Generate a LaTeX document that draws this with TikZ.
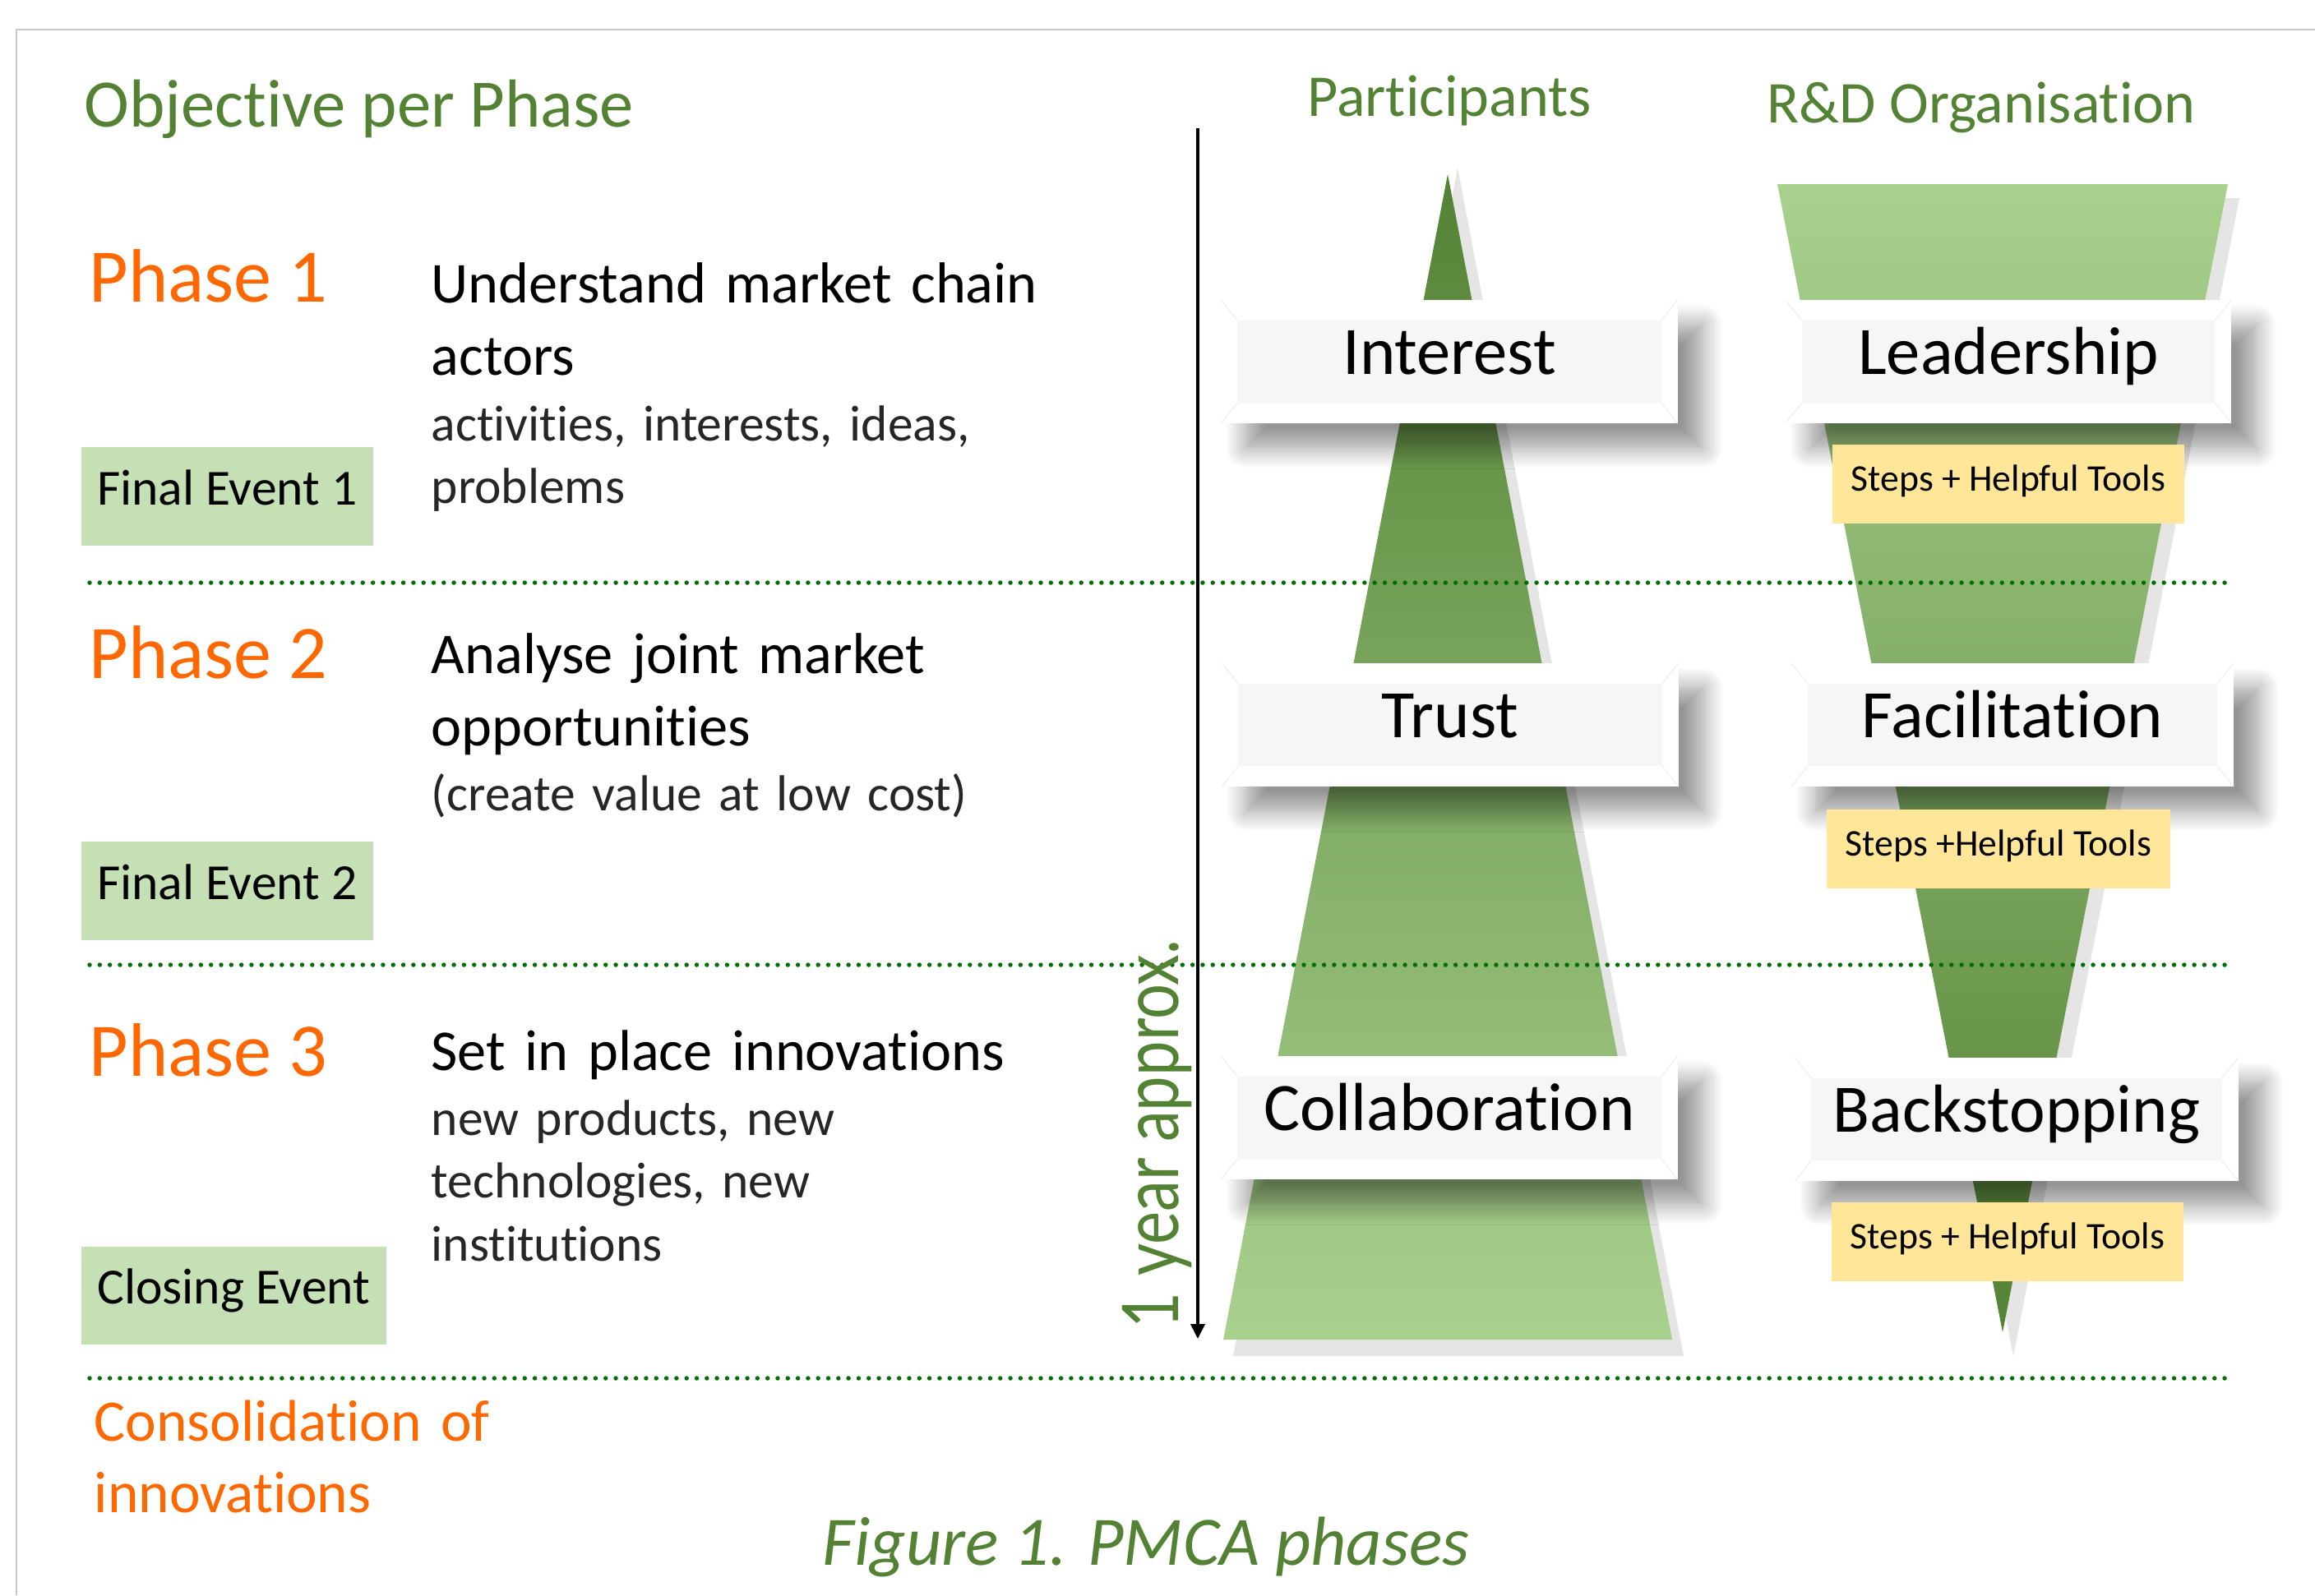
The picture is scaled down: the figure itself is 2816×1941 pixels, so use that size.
\documentclass[tikz,border=0pt]{standalone}
\usepackage{fontspec}
\setmainfont{Carlito}[Ligatures=NoCommon]
\newfontfamily\yearfont{Lato}
\usetikzlibrary{arrows.meta,shadows.blur,positioning}

\definecolor{headgreen}{RGB}{84,130,53}
\definecolor{phaseorange}{RGB}{255,104,0}
\definecolor{eventgreen}{RGB}{197,224,180}
\definecolor{palegreen}{RGB}{169,209,142}
\definecolor{deepgreen}{RGB}{84,130,53}
\definecolor{dotgreen}{RGB}{0,110,0}
\definecolor{stepyellow}{RGB}{255,230,153}
\definecolor{facegray}{RGB}{246,246,246}
\definecolor{framegray}{RGB}{200,200,200}
\definecolor{castgray}{RGB}{229,229,229}

\begin{document}
\begin{tikzpicture}[x=0.01cm, y=-0.01cm,
    heading/.style={font=\fontsize{23.5}{28}\selectfont, text=headgreen, inner sep=0pt},
    phase/.style={font=\fontsize{26.2}{32}\selectfont, text=phaseorange, inner sep=0pt, anchor=base west},
    goal/.style={font=\fontsize{20}{25.3}\selectfont, inner sep=0pt, anchor=base west, text width=9cm, align=left},
    detail/.style={font=\fontsize{17.5}{21.8}\selectfont, text=black!85, inner sep=0pt, anchor=base west, text width=9cm, align=left},
    event/.style={fill=eventgreen, font=\fontsize{17.5}{21}\selectfont, minimum height=1.19cm,
        text height=0.45cm, text depth=0.24cm, inner sep=0pt, anchor=west},
    level/.style={fill=white, minimum width=5.55cm, minimum height=1.5cm, inner sep=0pt,
        text height=0.6cm, text depth=0.3cm, font=\fontsize{23.5}{28}\selectfont,
        blur shadow={shadow xshift=0.3cm, shadow yshift=-0.3cm, shadow blur radius=0.25cm,
            shadow blur steps=12, shadow opacity=42},
        path picture={
            \fill[facegray] ([xshift=0.2cm,yshift=-0.25cm]path picture bounding box.north west)
                rectangle ([xshift=-0.2cm,yshift=0.25cm]path picture bounding box.south east);
            \foreach \c/\dx/\dy in {north west/0.2/-0.25, north east/-0.2/-0.25, south west/0.2/0.25, south east/-0.2/0.25}
                \draw[black!6] (path picture bounding box.\c) -- ([xshift=\dx cm, yshift=\dy cm]path picture bounding box.\c);
        }},
    tools/.style={fill=stepyellow, minimum width=4.28cm, minimum height=0.96cm, inner sep=0pt,
        text height=0.35cm, text depth=0.19cm, font=\fontsize{13}{15}\selectfont},
    sep/.style={dotgreen, line width=1.55pt, line cap=round, dash pattern=on 0pt off 3.5pt}
]
    \useasboundingbox (0,0) rectangle (2816,1941);
    \draw[framegray, line width=0.8pt] (20,1941) -- (20,36) -- (2816,36);

    % left half: phases and their goals
    \node[heading, anchor=base west] (objhead) at (102,154) {Objective per Phase};

    \node[phase] (ph1) at (108,367) {Phase 1};
    \node[goal] (goal1) at (524,368) {Understand market chain\\actors};
    \node[detail] (det1) at (524,536) {activities, interests, ideas,\\problems};
    \node[event, minimum width=3.55cm] (ev1) at (98,604) {Final Event 1};

    \node[phase] (ph2) at (108,825) {Phase 2};
    \node[goal] (goal2) at (524,819) {Analyse joint market\\opportunities};
    \node[detail] (det2) at (524,986) {(create value at low cost)};
    \node[event, minimum width=3.55cm] (ev2) at (98,1084) {Final Event 2};

    \node[phase] (ph3) at (108,1309) {Phase 3};
    \node[goal] (goal3) at (524,1302) {Set in place innovations};
    \node[detail] (det3) at (524,1381) {new products, new\\technologies, new\\institutions};
    \node[event, minimum width=3.71cm] (ev3) at (98,1576) {Closing Event};

    \node[font=\fontsize{20.3}{25}\selectfont, text=phaseorange, inner sep=0pt, anchor=base west,
        text width=6cm, align=left] (consol) at (114,1753) {Consolidation of\\innovations};

    % right half: the two funnels
    \node[heading, anchor=base, font=\fontsize{20.5}{25}\selectfont] (parthead) at (1763,141) {Participants};
    \node[heading, anchor=base, font=\fontsize{20.5}{25}\selectfont] (orghead) at (2410,149) {R\&D Organisation};

    \fill[castgray] (1773,204) -- (2048,1650) -- (1500,1650) -- cycle;
    \shade[top color=deepgreen, bottom color=palegreen] (1761,212) -- (2034,1630) -- (1488,1630) -- cycle;
    \fill[castgray] (2176,241) -- (2724,241) -- (2449,1650) -- cycle;
    \shade[top color=palegreen, bottom color=deepgreen] (2162,224) -- (2710,224) -- (2436,1621) -- cycle;

    \node[level] (interest) at (1763,440) {Interest};
    \node[level] (trust) at (1764,882) {Trust};
    \node[level] (collab) at (1763,1360) {Collaboration};
    \node[level, minimum width=5.42cm] (lead) at (2443,440) {Leadership};
    \node[level, minimum width=5.38cm] (facil) at (2448,882) {Facilitation};
    \node[level, minimum width=5.39cm] (backstop) at (2453,1362) {Backstopping};

    \node[tools] (tools1) at (2443,589) {Steps + Helpful Tools};
    \node[tools, minimum width=4.17cm] (tools2) at (2431,1033) {Steps +Helpful Tools};
    \node[tools] (tools3) at (2442,1511) {Steps + Helpful Tools};

    % phase separators
    \foreach \yy in {709,1174,1677}
        \draw[sep] (109,\yy) -- (2712,\yy);

    % time axis
    \coordinate (yrtop) at (1457,156);
    \coordinate (yrend) at (1457,1629);
    \draw[line width=1.1pt, -{Triangle[length=0.18cm, width=0.17cm]}] (yrtop) -- (yrend);
    \node[rotate=90, anchor=base, text=headgreen, inner sep=0pt] (span) at (1433,1380)
        {\resizebox{4.72cm}{\height}{\yearfont\fontsize{27}{30}\selectfont 1 year approx.}};

    \node[font=\itshape\fontsize{24}{28}\selectfont, text=headgreen, anchor=base, inner sep=0pt] (caption) at (1394,1904) {Figure 1. PMCA phases};
\end{tikzpicture}
\end{document}
